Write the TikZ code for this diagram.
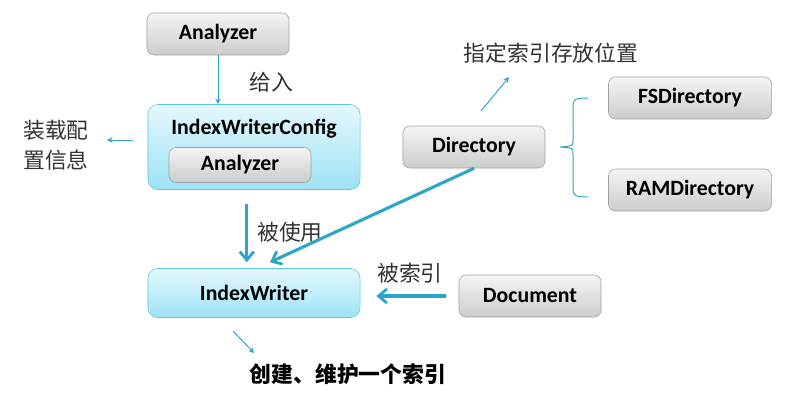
\documentclass[tikz,border=0pt]{standalone}
\usepackage{fontspec}
\setmainfont{Carlito}
\newfontfamily\cjk{Noto Sans CJK SC}
\usetikzlibrary{arrows.meta}
\definecolor{linkblue}{HTML}{2CA6C6}
\definecolor{boxgray}{HTML}{A0A0A0}
\definecolor{graytop}{HTML}{F5F5F5}
\definecolor{graybot}{HTML}{CCCCCC}
\definecolor{boxcyan}{HTML}{5EC4DF}
\definecolor{cyantop}{HTML}{E4F8FD}
\definecolor{cyanbot}{HTML}{9DE2F5}
\tikzset{
  graybox/.style={draw=boxgray, rounded corners=5pt, top color=graytop, bottom color=graybot,
    minimum width=3.55cm, minimum height=1.05cm, font=\bfseries\fontsize{15.5}{18}\selectfont},
  cyanbox/.style={draw=boxcyan, rounded corners=7pt, top color=cyantop, bottom color=cyanbot,
    minimum width=5.3cm, font=\bfseries\fontsize{15.5}{18}\selectfont},
  note/.style={font=\cjk\fontsize{15.5}{21}\selectfont, text=black!80, align=left},
  thinarrow/.style={->, >={Stealth[length=4pt,width=4pt]}, draw=linkblue, line width=0.7pt},
  bigarrow/.style={->, >={Straight Barb[length=6pt,width=10pt,line width=2pt]}, draw=linkblue, line width=2.2pt},
}
\begin{document}
\begin{tikzpicture}[x=0.025cm, y=-0.025cm]
\useasboundingbox (0,0) rectangle (786,400);
% boxes
\node[graybox] (ana) at (218,34) {Analyzer};
\node[cyanbox, minimum height=2.125cm] (iwc) at (254,147) {};
\node[font=\bfseries\fontsize{15.5}{18}\selectfont] (iwctitle) at (254,129) {IndexWriterConfig};
\node[graybox, minimum width=3.55cm, minimum height=0.875cm] (inner) at (240,165) {Analyzer};
\node[graybox] (dir) at (474,147) {Directory};
\node[graybox, minimum width=4.075cm] (fsd) at (690,98) {FSDirectory};
\node[graybox, minimum width=4.075cm] (ramd) at (690,190) {RAMDirectory};
\node[cyanbox, minimum height=1.225cm] (iw) at (254,293) {IndexWriter};
\node[graybox] (doc) at (530,296) {Document};
% labels
\node[note] (give) at (271,82) {给入};
\node[note] (cfgnote) at (56,145) {装载配\\置信息};
\node[note] (where) at (551,53) {指定索引存放位置};
\node[note] (used) at (290,232) {被使用};
\node[note] (indexed) at (410,273) {被索引};
\node[font=\cjk\bfseries\fontsize{15.5}{19}\selectfont] (create) at (348,374) {创建、维护一个索引};
% free ends
\coordinate (cfgtip) at (107,140);
\coordinate (dirtail) at (481,111);
\coordinate (dirtip) at (509,77);
\coordinate (iwtail) at (233,331);
\coordinate (iwtip) at (254,353);
% connectors
\draw[thinarrow] (ana.south) -- (ana.south |- iwc.north);
\draw[thinarrow, shorten <=10.6pt] (iwc.west |- cfgtip) -- (cfgtip);
\draw[thinarrow] (dirtail) -- (dirtip);
\draw[thinarrow] (iwtail) -- (iwtip);
\draw[bigarrow] ([xshift=-0.18cm,yshift=-0.35cm]iwc.south) -- ([xshift=-0.18cm,yshift=0.15cm]iw.north);
\draw[bigarrow] (dir.south) -- ([xshift=0.4cm,yshift=0.15cm]iw.north);
\draw[bigarrow] ([xshift=-0.325cm]doc.west) -- ([xshift=0.4cm]doc.west -| iw.east);
% brace
\draw[linkblue, line width=0.7pt] (588,98) .. controls (576,98) and (573,99) .. (573,106) -- (573,140)
  .. controls (573,146) .. (560,147) .. controls (573,148) .. (573,154) -- (573,189)
  .. controls (573,196) and (576,197) .. (588,197);
\end{tikzpicture}
\end{document}
